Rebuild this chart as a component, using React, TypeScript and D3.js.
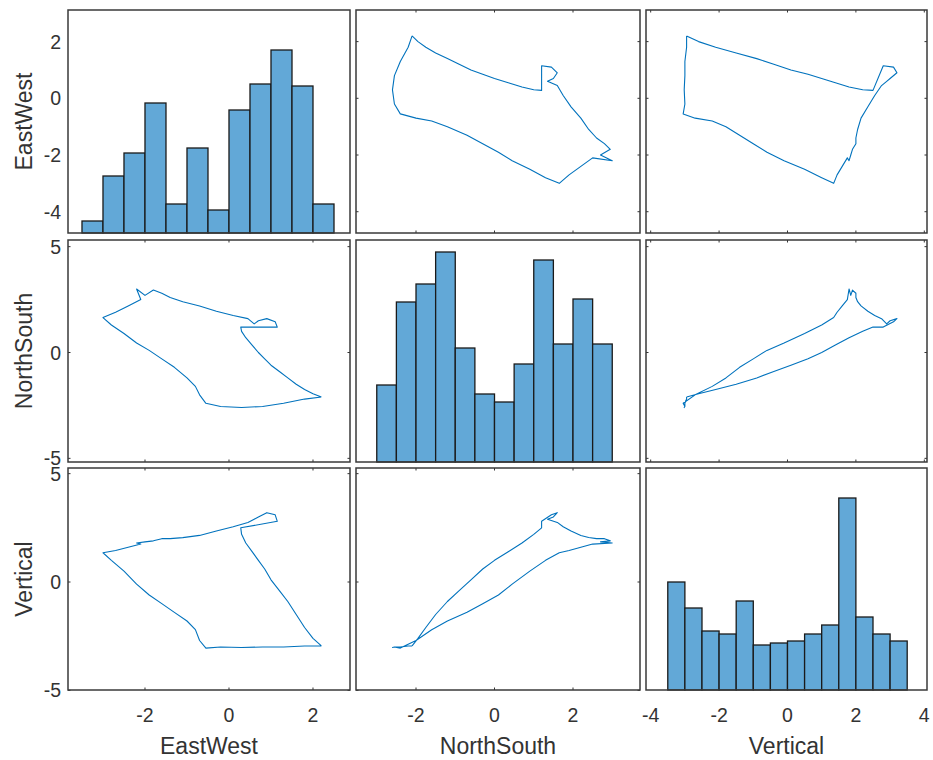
import React from 'react';
import * as d3 from 'd3';

const varNames = ['EastWest', 'NorthSouth', 'Vertical'];

// Trajectory (one sample per row)
const eastWest = [2.2, 2.0, 1.8, 1.6, 1.4, 1.2, 1.0, 0.85, 0.7, 0.55, 0.4, 0.3, 0.28, 1.15, 1.1, 0.9, 0.7, 0.6, 0.45, 0.1, -0.3, -0.7, -1.1, -1.4, -1.6, -1.8, -2.0, -2.2, -2.1, -2.4, -2.7, -3.0, -2.8, -2.5, -2.2, -1.9, -1.6, -1.3, -1.0, -0.8, -0.7, -0.55, -0.2, 0.3, 0.8, 1.3, 1.8, 2.2];
const northSouth = [-2.1, -1.95, -1.75, -1.5, -1.2, -0.9, -0.6, -0.3, 0.0, 0.35, 0.7, 1.0, 1.2, 1.2, 1.45, 1.6, 1.5, 1.35, 1.6, 1.75, 1.95, 2.2, 2.4, 2.6, 2.8, 2.95, 2.7, 3.0, 2.5, 2.2, 1.9, 1.65, 1.3, 0.9, 0.45, 0.1, -0.3, -0.7, -1.2, -1.6, -2.0, -2.4, -2.55, -2.6, -2.55, -2.4, -2.2, -2.1];
const vertical = [-2.95, -2.6, -2.1, -1.5, -0.9, -0.4, 0.1, 0.6, 1.0, 1.4, 1.8, 2.2, 2.5, 2.8, 3.1, 3.2, 3.0, 2.9, 2.75, 2.55, 2.35, 2.15, 2.05, 2.0, 2.0, 1.9, 1.85, 1.8, 1.75, 1.6, 1.45, 1.35, 1.0, 0.5, -0.1, -0.6, -1.0, -1.4, -1.8, -2.2, -2.7, -3.05, -3.0, -3.02, -3.0, -3.0, -2.95, -2.95];

// Histograms (bin width 0.5)
const ewBinStart = -3.5;
const ewCounts = [12, 57, 80, 130, 29, 85, 23, 123, 149, 183, 147, 29];
const nsBinStart = -3.0;
const nsCounts = [77, 160, 178, 210, 114, 68, 60, 98, 202, 118, 163, 118];
const vBinStart = -3.5;
const vCounts = [108, 82, 59, 56, 89, 45, 47, 49, 56, 65, 192, 73, 56, 49];
const binWidth = 0.5;
const histMax = [223, 222, 222];

// Axis limits and ticks
const colLimits = [[-3.833, 2.881], [-3.529, 3.707], [-4.137, 4.079]];
const rowLimits = [[-4.751, 3.115], [-5.172, 5.314], [-4.984, 5.261]];
const colTicks = [[-2, 0, 2], [-2, 0, 2], [-4, -2, 0, 2, 4]];
const rowTicks = [[-4, -2, 0, 2], [-5, 0, 5], [-5, 0, 5]];

const colPx = [[68, 350], [356, 640], [646, 927]];
const rowPx = [[10, 233], [240, 462], [468, 690]];

const FONT = '"Liberation Sans", Arial, Helvetica, sans-serif';
const TXT = '#333333';
const LINE = '#0072BD';

export default function App() {
  const series = [eastWest, northSouth, vertical];
  const hists = [
    { start: ewBinStart, counts: ewCounts },
    { start: nsBinStart, counts: nsCounts },
    { start: vBinStart, counts: vCounts },
  ];
  const xScales = colLimits.map((d, i) => d3.scaleLinear().domain(d).range(colPx[i]));
  const yScales = rowLimits.map((d, i) => d3.scaleLinear().domain(d).range([rowPx[i][1], rowPx[i][0]]));

  const panels: React.ReactNode[] = [];
  for (let r = 0; r < 3; r++) {
    for (let c = 0; c < 3; c++) {
      const [x0, x1] = colPx[c];
      const [y0, y1] = rowPx[r];
      const key = `p${r}${c}`;
      const content: React.ReactNode[] = [];
      if (r === c) {
        const h = hists[r];
        const hy = d3.scaleLinear().domain([0, histMax[r]]).range([y1, y0]);
        h.counts.forEach((cnt, i) => {
          const a = xScales[c](h.start + i * binWidth);
          const b = xScales[c](h.start + (i + 1) * binWidth);
          content.push(
            <rect key={`b${i}`} x={a} y={hy(cnt)} width={b - a} height={y1 - hy(cnt)}
              fill="#62A8D7" stroke="#1a1a1a" strokeWidth={1.3} />
          );
        });
      } else {
        const xs = series[c];
        const ys = series[r];
        const pts = xs.map((v, i) => [v, ys[i]] as [number, number]);
        const line = d3.line<[number, number]>()
          .x(d => xScales[c](d[0]))
          .y(d => yScales[r](d[1]));
        content.push(
          <path key="ln" d={line(pts) || ''} fill="none" stroke={LINE} strokeWidth={1.1}
            strokeLinejoin="round" clipPath={`url(#clip${key})`} />
        );
        const tl = 2.5;
        colTicks[c].forEach((t, i) => {
          const x = xScales[c](t);
          content.push(<line key={`xb${i}`} x1={x} x2={x} y1={y1} y2={y1 - tl} stroke={TXT} strokeWidth={1} />);
          content.push(<line key={`xt${i}`} x1={x} x2={x} y1={y0} y2={y0 + tl} stroke={TXT} strokeWidth={1} />);
        });
        rowTicks[r].forEach((t, i) => {
          const y = yScales[r](t);
          content.push(<line key={`yl${i}`} x1={x0} x2={x0 + tl} y1={y} y2={y} stroke={TXT} strokeWidth={1} />);
          content.push(<line key={`yr${i}`} x1={x1} x2={x1 - tl} y1={y} y2={y} stroke={TXT} strokeWidth={1} />);
        });
      }
      panels.push(
        <g key={key}>
          <clipPath id={`clip${key}`}>
            <rect x={x0} y={y0} width={x1 - x0} height={y1 - y0} />
          </clipPath>
          <rect x={x0} y={y0} width={x1 - x0} height={y1 - y0} fill="#fff" />
          {content}
          <rect x={x0} y={y0} width={x1 - x0} height={y1 - y0} fill="none" stroke="#3a3a3a" strokeWidth={1.5} />
        </g>
      );
    }
  }

  const labels: React.ReactNode[] = [];
  for (let c = 0; c < 3; c++) {
    colTicks[c].forEach((t, i) => {
      labels.push(
        <text key={`xl${c}${i}`} x={xScales[c](t)} y={722} textAnchor="middle" fontSize={19.5} fill={TXT} fontFamily={FONT}>
          {t < 0 ? `-${Math.abs(t)}` : `${t}`}
        </text>
      );
    });
    labels.push(
      <text key={`xn${c}`} x={(colPx[c][0] + colPx[c][1]) / 2} y={754} textAnchor="middle" fontSize={23} fill={TXT} fontFamily={FONT}>
        {varNames[c]}
      </text>
    );
  }
  for (let r = 0; r < 3; r++) {
    rowTicks[r].forEach((t, i) => {
      labels.push(
        <text key={`yl${r}${i}`} x={61} y={yScales[r](t)} dy="0.36em" textAnchor="end" fontSize={19.5} fill={TXT} fontFamily={FONT}>
          {t < 0 ? `-${Math.abs(t)}` : `${t}`}
        </text>
      );
    });
    const cy = (rowPx[r][0] + rowPx[r][1]) / 2;
    labels.push(
      <text key={`yn${r}`} x={32} y={cy} transform={`rotate(-90 32 ${cy})`} textAnchor="middle" fontSize={23} fill={TXT} fontFamily={FONT}>
        {varNames[r]}
      </text>
    );
  }

  return (
    <svg width={933} height={760} style={{ position: 'absolute', left: 0, top: 0, background: '#fff' }}>
      <rect x={0} y={0} width={933} height={760} fill="#fff" />
      {panels}
      {labels}
    </svg>
  );
}
